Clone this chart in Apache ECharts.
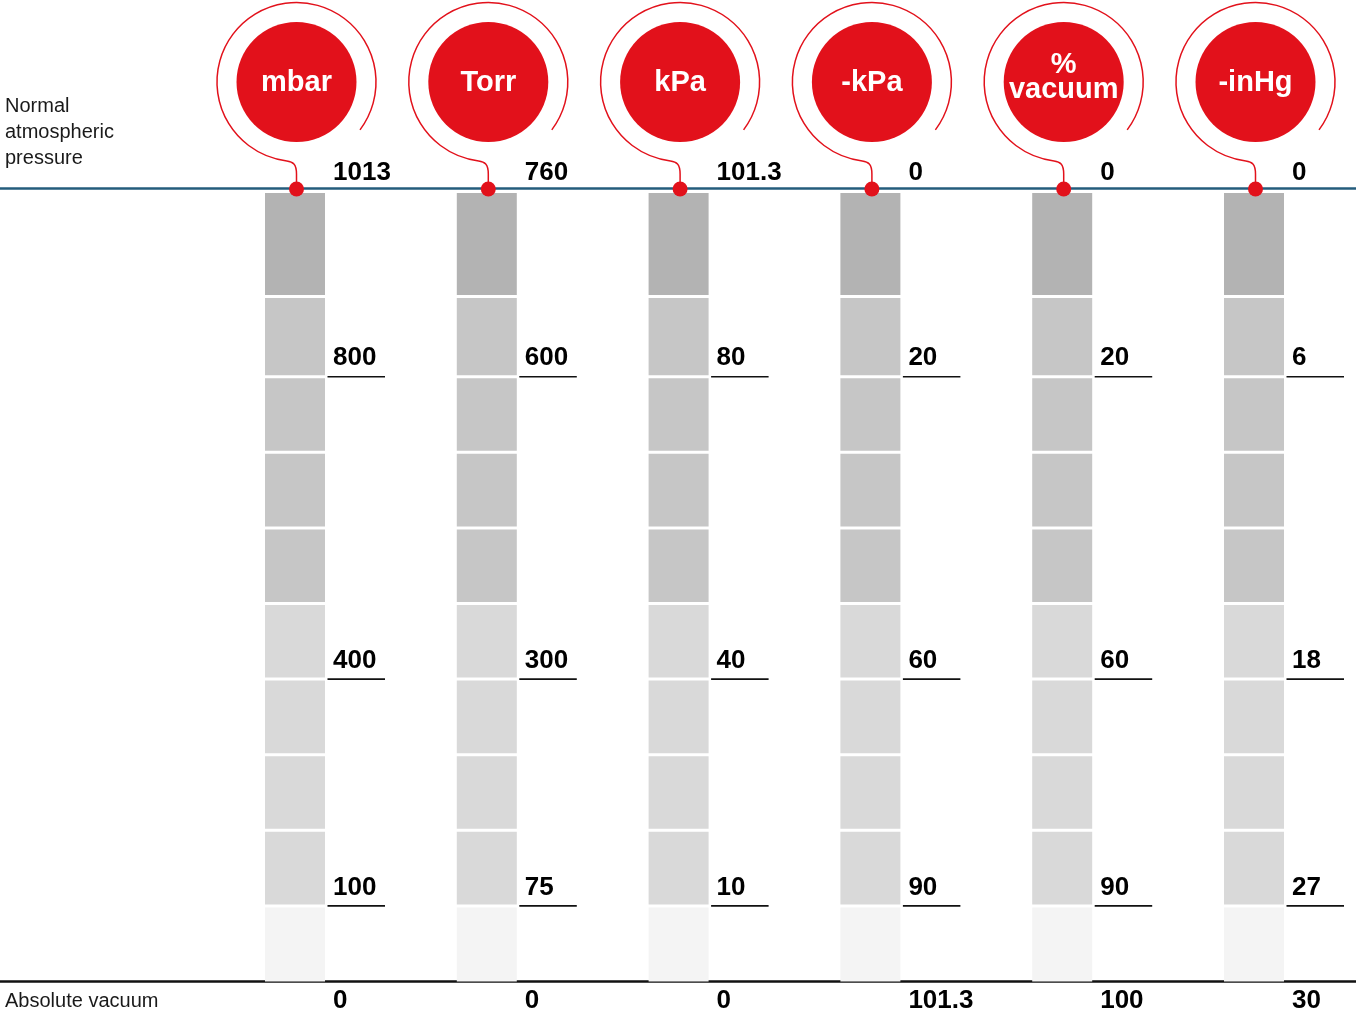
<!DOCTYPE html>
<html><head><meta charset="utf-8">
<script src="https://cdn.jsdelivr.net/npm/echarts@6/dist/echarts.min.js"></script>
<style>html,body{margin:0;padding:0;background:#fff}#c{width:1356px;height:1017px}</style>
</head><body><div id="c"></div>
<script>
// ---- data ----
const units = ['mbar', 'Torr', 'kPa', '-kPa', '%\nvacuum', '-inHg'];
const topLabels = ['1013', '760', '101.3', '0', '0', '0'];
const tickLevels = [800, 400, 100];            // mbar-equivalent position of each marked tick
const tickLabels = [
  ['800', '400', '100'],
  ['600', '300', '75'],
  ['80', '40', '10'],
  ['20', '60', '90'],
  ['20', '60', '90'],
  ['6', '18', '27']
];
const bottomLabels = ['0', '0', '0', '101.3', '100', '30'];
const segmentBounds = [0, 100, 200, 300, 400, 500, 600, 700, 800, 906, 1043];
const scaleTop = 1049;
const topText = 'Normal\natmospheric\npressure';
const bottomText = 'Absolute vacuum';

// ---- styles ----
const SHADES = ['#f4f4f4', '#d9d9d9', '#d9d9d9', '#d9d9d9', '#d9d9d9', '#c6c6c6', '#c6c6c6', '#c6c6c6', '#c6c6c6', '#b3b3b3'];
const RED = '#e2111b';
const FONT = '"Liberation Sans", Arial, sans-serif';

const segData = [];
units.forEach((u, i) => {
  for (let j = 0; j < segmentBounds.length - 1; j++) segData.push([i, segmentBounds[j], segmentBounds[j + 1], j]);
});
const tickData = [];
units.forEach((u, i) => tickLevels.forEach((lv, k) => tickData.push([i, lv, tickLabels[i][k]])));
const endData = units.map((u, i) => [i, scaleTop, topLabels[i], bottomLabels[i]]);
const badgeData = units.map((u, i) => [i, scaleTop, u]);

function txt(text, x, y, font, fill, align, valign, lineHeight) {
  return { type: 'text', style: { text, x, y, font, fill, align, textAlign: align, verticalAlign: valign, textVerticalAlign: valign, lineHeight } };
}

const chart = echarts.init(document.getElementById('c'), null, { renderer: 'canvas' });
chart.setOption({
  animation: false,
  grid: { left: 199.1, right: 6.1, top: 188.5, bottom: 35.5 },
  xAxis: { type: 'category', data: units, show: false },
  yAxis: { type: 'value', min: 0, max: scaleTop, show: false },
  series: [
    { // frame lines and side captions
      type: 'custom', z: 1, clip: false, data: [[0, scaleTop]],
      renderItem(params, api) {
        const ly = api.coord([0, scaleTop])[1];
        const by = api.coord([0, 0])[1];
        const w = api.getWidth();
        return { type: 'group', children: [
          { type: 'line', shape: { x1: 0, y1: ly, x2: w, y2: ly }, style: { stroke: '#245c7c', lineWidth: 2.5 } },
          { type: 'line', shape: { x1: 0, y1: by, x2: w, y2: by }, style: { stroke: '#111', lineWidth: 2.5 }, z2: 10 },
          txt(topText, 5, ly - 17, '20px ' + FONT, '#1a1a1a', 'left', 'bottom', 26),
          txt(bottomText, 5, by + 19.5, '20px ' + FONT, '#1a1a1a', 'left', 'middle')
        ] };
      }
    },
    { // stacked gray blocks
      type: 'custom', z: 2, clip: false, data: segData,
      encode: { x: 0, y: [1, 2] },
      renderItem(params, api) {
        const i = api.value(0), lo = api.value(1), hi = api.value(2), j = api.value(3);
        const p0 = api.coord([i, lo]), p1 = api.coord([i, hi]);
        const top = p1[1] + (j === segmentBounds.length - 2 ? 0 : 1.5);
        const bot = p0[1] - (lo > 0 ? 1.5 : 0);
        return { type: 'rect', shape: { x: p0[0] - 30, y: top, width: 60, height: bot - top }, style: { fill: SHADES[j] } };
      }
    },
    { // tick marks with labels
      type: 'custom', z: 3, clip: false, data: tickData,
      encode: { x: 0, y: 1 },
      renderItem(params, api) {
        const i = api.value(0), lv = api.value(1);
        const p = api.coord([i, lv]);
        const label = tickData[params.dataIndex][2];
        return { type: 'group', children: [
          { type: 'line', shape: { x1: p[0] + 32.5, y1: p[1], x2: p[0] + 90, y2: p[1] }, style: { stroke: '#111', lineWidth: 1.6 } },
          txt(label, p[0] + 38, p[1] - 18.5, 'bold 26px ' + FONT, '#000', 'left', 'middle')
        ] };
      }
    },
    { // top and bottom values
      type: 'custom', z: 3, clip: false, data: endData,
      encode: { x: 0, y: 1 },
      renderItem(params, api) {
        const i = api.value(0);
        const pt = api.coord([i, scaleTop]), pb = api.coord([i, 0]);
        const d = endData[params.dataIndex];
        return { type: 'group', children: [
          txt(d[2], pt[0] + 38, pt[1] - 16, 'bold 26px ' + FONT, '#000', 'left', 'middle'),
          txt(d[3], pb[0] + 38, pb[1] + 19.5, 'bold 26px ' + FONT, '#000', 'left', 'middle')
        ] };
      }
    },
    { // unit badges
      type: 'custom', z: 4, clip: false, data: badgeData,
      encode: { x: 0, y: 1 },
      renderItem(params, api) {
        const i = api.value(0);
        const p = api.coord([i, scaleTop]);
        const label = badgeData[params.dataIndex][2];
        const bx = p[0] + 1.5, ly = p[1], by = ly - 106.5, R = 79.5;
        const a1 = 37 * Math.PI / 180, a2 = 97 * Math.PI / 180;
        const sx = bx + R * Math.cos(a1), sy = by + R * Math.sin(a1);
        const ex = bx + R * Math.cos(a2), ey = by + R * Math.sin(a2);
        const path = `M${sx} ${sy} A${R} ${R} 0 1 0 ${ex} ${ey} C${ex + 6} ${ey + 0.8} ${bx} ${ey + 3} ${bx} ${ey + 13} L${bx} ${ly}`;
        const multi = label.indexOf('\n') >= 0;
        return { type: 'group', children: [
          { type: 'path', shape: { pathData: path }, style: { stroke: RED, lineWidth: 1.5, fill: null } },
          { type: 'circle', shape: { cx: bx, cy: by, r: 60 }, style: { fill: RED } },
          txt(label, bx, by + (multi ? -5 : 1), 'bold 29px ' + FONT, '#fff', 'center', 'middle', 25),
          { type: 'circle', shape: { cx: bx, cy: ly + 0.5, r: 7.5 }, style: { fill: RED } }
        ] };
      }
    }
  ]
});
</script>
</body></html>
